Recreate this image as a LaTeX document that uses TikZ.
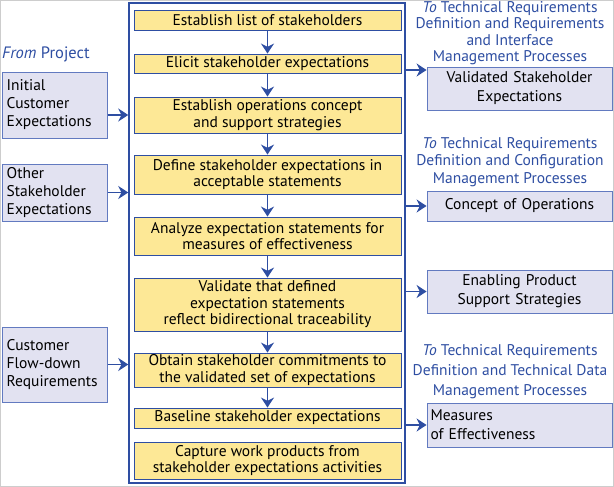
\documentclass[tikz,border=0pt]{standalone}
\usepackage{fontspec}
\setmainfont{PT Sans}
\usepackage{xcolor}
\usepackage{tikz}
\usetikzlibrary{arrows.meta}
\definecolor{FlowBlue}{RGB}{46,78,162}
\definecolor{StepYellow}{RGB}{253,232,150}
\definecolor{ProductLilac}{RGB}{226,226,241}
\definecolor{ProductEdge}{RGB}{98,122,192}
\definecolor{LabelBlue}{RGB}{46,78,162}
\definecolor{FrameGray}{RGB}{205,205,205}

\begin{document}
\begin{tikzpicture}[
    x=1pt, y=-1pt,
    font=\fontsize{15.5}{16.5}\selectfont,
    flowarrow/.style={-{Stealth[length=10pt,width=13pt]}, line width=1.6pt, draw=FlowBlue},
    stepbox/.style={
        draw=FlowBlue,
        line width=0.9pt,
        fill=StepYellow,
        align=center,
        inner sep=0pt,
        minimum width=267pt
    },
    productbox/.style={
        draw=ProductEdge,
        line width=0.9pt,
        fill=ProductLilac,
        inner sep=0pt
    },
    inputbox/.style={productbox, minimum width=104.7pt, text width=96pt, align=left,
        font=\fontsize{15.5}{18}\selectfont},
    outputbox/.style={productbox, minimum width=185pt, text width=180pt, align=center,
        font=\fontsize{15.5}{19}\selectfont},
    tolabel/.style={text=LabelBlue, align=center, inner sep=0pt,
        font=\fontsize{15.5}{16.5}\selectfont}
]

% Page frame and fixed bounding box.
\useasboundingbox (0,0) rectangle (614,487);
\draw[FrameGray] (0.5,0.5) rectangle (613.5,486.5);

% Process container round all activity steps.
\node[draw=FlowBlue, line width=1.5pt, minimum width=276pt, minimum height=480pt, inner sep=0pt] (process) at (267,243) {};

% Activity steps, top to bottom.
\node[stepbox, minimum height=20pt] (list) at (267.5,20) {Establish list of stakeholders};
\node[stepbox, minimum height=19pt] (elicit) at (267.5,63.5) {Elicit stakeholder expectations};
\node[stepbox, minimum height=36pt] (ops) at (267.5,115) {Establish operations concept\\and support strategies};
\node[stepbox, minimum height=39pt] (define) at (267.5,174.5) {Define stakeholder expectations in\\acceptable statements};
\node[stepbox, minimum height=38pt] (analyze) at (267.5,236) {Analyze expectation statements for\\measures of effectiveness};
\node[stepbox, minimum height=53pt] (validate) at (267.5,304.5) {Validate that defined\\expectation statements\\reflect bidirectional traceability};
\node[stepbox, minimum height=34pt] (commit) at (267.5,370) {Obtain stakeholder commitments to\\the validated set of expectations};
\node[stepbox, minimum height=20pt] (baseline) at (267.5,418) {Baseline stakeholder expectations};
\node[stepbox, minimum height=37pt] (capture) at (267.5,460.5) {Capture work products from\\stakeholder expectations activities};

% Inputs from the project.
\node[text=LabelBlue, anchor=west, inner sep=0pt, font=\fontsize{16.5}{18}\selectfont] (fromproj) at (2,54) {\textit{From} Project};
\node[inputbox, minimum height=66pt] (initial) at (54.7,105) {Initial\\Customer\\Expectations};
\node[inputbox, minimum height=57pt] (other) at (54.7,192.5) {Other\\Stakeholder\\Expectations};
\node[inputbox, minimum height=75pt] (flowdown) at (54.7,364.5) {Customer\\Flow-down\\Requirements};

% Outputs to the other processes.
\node[tolabel] (toreq) at (510,33) {\textit{To} Technical Requirements\\Definition and Requirements\\and Interface\\Management Processes};
\node[outputbox, minimum height=43pt] (validated) at (519.5,88.5) {Validated Stakeholder\\Expectations};
\node[tolabel, font=\fontsize{15.5}{17.5}\selectfont] (toconfig) at (510,162) {\textit{To} Technical Requirements\\Definition and Configuration\\Management Processes};
\node[outputbox, minimum height=30pt] (conops) at (519.5,206) {Concept of Operations};
\node[outputbox, minimum height=43pt] (enabling) at (519.5,291.5) {Enabling Product\\Support Strategies};
\node[tolabel, font=\fontsize{15.5}{20}\selectfont] (todata) at (510,372) {\textit{To} Technical Requirements\\Definition and Technical Data\\Management Processes};
\node[productbox, minimum width=185pt, text width=178pt, align=left, minimum height=44pt,
    font=\fontsize{15.5}{19}\selectfont] (measures) at (519.5,425) {Measures\\of Effectiveness};

% Step sequence.
\foreach \a/\b in {list/elicit, elicit/ops, ops/define, define/analyze, analyze/validate, validate/commit, commit/baseline}
    \draw[flowarrow] (\a) -- (\b);

% Inputs into the process.
\draw[flowarrow] (initial.east |- ops) -- (process.west |- ops);
\draw[flowarrow] (other) -- (process.west |- other);
\draw[flowarrow] (flowdown) -- (process.west |- flowdown);

% Outputs from the process.
\coordinate (outvalid) at (405,70);
\draw[flowarrow] (outvalid) -- (outvalid -| validated.west);
\draw[flowarrow] (process.east |- conops) -- (conops);
\draw[flowarrow] (process.east |- enabling) -- (enabling);
\draw[flowarrow] (process.east |- measures) -- (measures);

\end{tikzpicture}
\end{document}
